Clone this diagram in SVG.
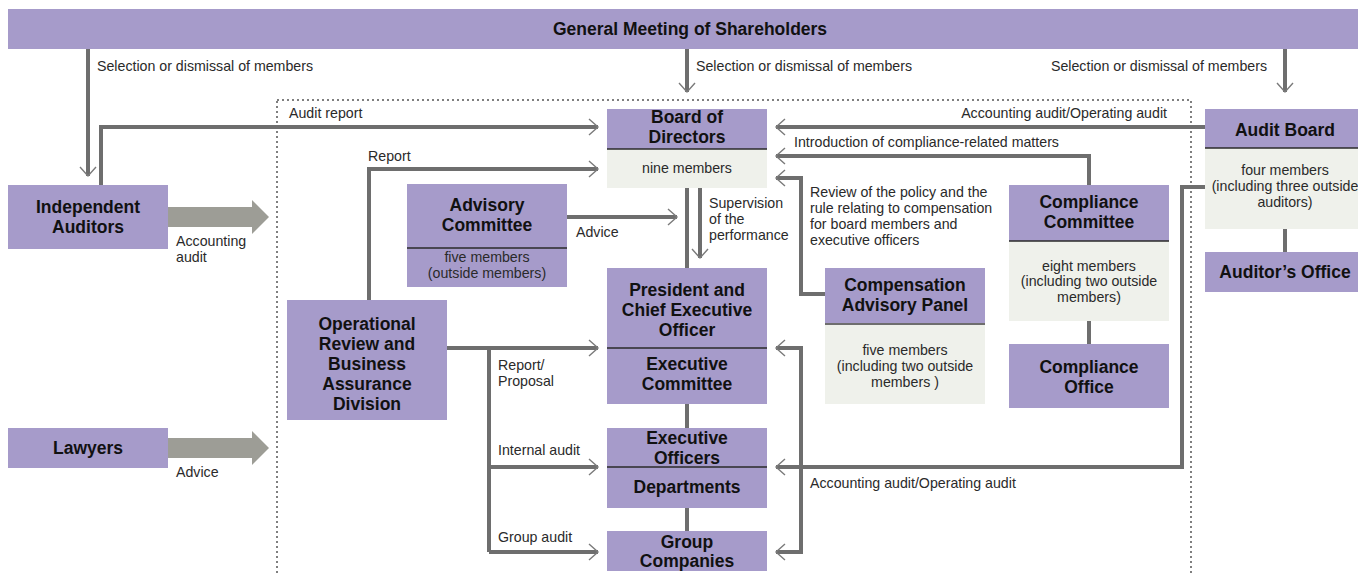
<svg xmlns="http://www.w3.org/2000/svg" width="1358" height="574" viewBox="0 0 1358 574">
<defs>
<style>
.p{fill:#a69bca}
.l{fill:#eff1eb}
.sep{stroke:#2a2a2a;stroke-width:1.5}
.c{fill:none;stroke:#6e6e6e;stroke-width:4}
.ca{fill:none;stroke:#6e6e6e;stroke-width:4;marker-end:url(#ah)}
.fat{fill:#9d9d96}
.b{font-family:"Liberation Sans",Arial,sans-serif;font-weight:bold;font-size:17.5px;fill:#111;text-anchor:middle}
.t{font-family:"Liberation Sans",Arial,sans-serif;font-size:14.2px;fill:#2a2a2a}
.tm{font-family:"Liberation Sans",Arial,sans-serif;font-size:14.2px;fill:#2a2a2a;text-anchor:middle}
.dot{fill:none;stroke:#555;stroke-width:1.5;stroke-dasharray:2 3}
</style>
<marker id="ah" markerUnits="userSpaceOnUse" markerWidth="24" markerHeight="24" refX="12" refY="12" orient="auto" viewBox="0 0 24 24">
<path d="M3,4 L12,12 L3,20" fill="none" stroke="#7a7a7a" stroke-width="1.4"/>
</marker>
</defs>

<rect class="dot" x="277" y="100" width="914" height="490"/>

<g id="connectors">
<path class="ca" d="M88,49 V176"/>
<path class="ca" d="M687,49 V92"/>
<path class="ca" d="M1285,49 V92"/>
<path class="ca" d="M101,185 V127 H598"/>
<path class="ca" d="M369,300 V169 H598"/>
<path class="ca" d="M567,217 H677"/>
<path class="c" d="M687,188 V268"/>
<path class="ca" d="M700,188 V258"/>
<path class="ca" d="M1205,127 H776"/>
<path class="ca" d="M1089,185 V156 H776"/>
<path class="ca" d="M825,294 H801 V178 H776"/>
<path class="ca" d="M1205,187 H1182 V467 H776"/>
<path class="ca" d="M801,467 V348 H776"/>
<path class="ca" d="M801,467 V552 H776"/>
<path class="ca" d="M447,348 H598"/>
<path class="c" d="M489,348 V552"/>
<path class="ca" d="M489,467 H598"/>
<path class="ca" d="M489,552 H598"/>
<path class="c" d="M687,404 V428"/>
<path class="c" d="M687,508 V531"/>
<path class="c" d="M1089,321 V344"/>
<path class="c" d="M1285,229 V252"/>
<rect class="fat" x="168" y="207" width="85" height="20"/>
<polygon class="fat" points="252,200 269,217 252,234"/>
<rect class="fat" x="168" y="438" width="85" height="20"/>
<polygon class="fat" points="252,431 269,448 252,465"/>
<text class="t" x="97" y="71">Selection or dismissal of members</text>
<text class="t" x="696" y="71">Selection or dismissal of members</text>
<text class="t" x="1267" y="71" text-anchor="end">Selection or dismissal of members</text>
<text class="t" x="289" y="118">Audit report</text>
<text class="t" x="368" y="161">Report</text>
<text class="t" x="176" y="246">Accounting</text>
<text class="t" x="176" y="262">audit</text>
<text class="t" x="176" y="477">Advice</text>
<text class="t" x="576" y="237">Advice</text>
<text class="t" x="709" y="208">Supervision</text>
<text class="t" x="709" y="224">of the</text>
<text class="t" x="709" y="240">performance</text>
<text class="t" x="1167" y="118" text-anchor="end">Accounting audit/Operating audit</text>
<text class="t" x="794" y="147">Introduction of compliance-related matters</text>
<text class="t" x="810" y="197">Review of the policy and the</text>
<text class="t" x="810" y="213">rule relating to compensation</text>
<text class="t" x="810" y="229">for board members and</text>
<text class="t" x="810" y="245">executive officers</text>
<text class="t" x="498" y="370">Report/</text>
<text class="t" x="498" y="386">Proposal</text>
<text class="t" x="498" y="455">Internal audit</text>
<text class="t" x="498" y="542">Group audit</text>
<text class="t" x="810" y="488">Accounting audit/Operating audit</text>
</g>

<g id="shareholders">
<rect class="p" x="8" y="9" width="1352" height="40"/>
<text class="b" x="690" y="35">General Meeting of Shareholders</text>
</g>

<g id="independent-auditors">
<rect class="p" x="8" y="185" width="160" height="64"/>
<text class="b" x="88" y="213">Independent</text>
<text class="b" x="88" y="233">Auditors</text>
</g>

<g id="lawyers">
<rect class="p" x="8" y="428" width="160" height="40"/>
<text class="b" x="88" y="454">Lawyers</text>
</g>

<g id="board">
<rect class="p" x="607" y="109" width="160" height="40"/>
<rect class="l" x="607" y="149" width="160" height="39"/>
<line class="sep" x1="607" y1="149" x2="767" y2="149"/>
<text class="b" x="687" y="123">Board of</text>
<text class="b" x="687" y="143">Directors</text>
<text class="tm" x="687" y="173">nine members</text>
</g>

<g id="advisory">
<rect class="p" x="407" y="184" width="160" height="103"/>
<line class="sep" x1="407" y1="248" x2="567" y2="248"/>
<text class="b" x="487" y="211">Advisory</text>
<text class="b" x="487" y="231">Committee</text>
<text class="tm" x="487" y="262">five members</text>
<text class="tm" x="487" y="278">(outside members)</text>
</g>

<g id="operational">
<rect class="p" x="287" y="300" width="160" height="120"/>
<text class="b" x="367" y="330">Operational</text>
<text class="b" x="367" y="350">Review and</text>
<text class="b" x="367" y="370">Business</text>
<text class="b" x="367" y="390">Assurance</text>
<text class="b" x="367" y="410">Division</text>
</g>

<g id="president">
<rect class="p" x="607" y="268" width="160" height="136"/>
<line class="sep" x1="607" y1="348" x2="767" y2="348"/>
<text class="b" x="687" y="296">President and</text>
<text class="b" x="687" y="316">Chief Executive</text>
<text class="b" x="687" y="336">Officer</text>
<text class="b" x="687" y="370">Executive</text>
<text class="b" x="687" y="390">Committee</text>
</g>

<g id="officers">
<rect class="p" x="607" y="428" width="160" height="80"/>
<line class="sep" x1="607" y1="467" x2="767" y2="467"/>
<text class="b" x="687" y="444">Executive</text>
<text class="b" x="687" y="464">Officers</text>
<text class="b" x="687" y="493">Departments</text>
</g>

<g id="group">
<rect class="p" x="607" y="531" width="160" height="40"/>
<text class="b" x="687" y="548">Group</text>
<text class="b" x="687" y="567">Companies</text>
</g>

<g id="compensation">
<rect class="p" x="825" y="268" width="160" height="56"/>
<rect class="l" x="825" y="324" width="160" height="80"/>
<line x1="825" y1="324" x2="985" y2="324" stroke="#6e6e6e" stroke-width="2"/>
<text class="b" x="905" y="291">Compensation</text>
<text class="b" x="905" y="311">Advisory Panel</text>
<text class="tm" x="905" y="355">five members</text>
<text class="tm" x="905" y="371">(including two outside</text>
<text class="tm" x="905" y="387">members )</text>
</g>

<g id="compliance-committee">
<rect class="p" x="1009" y="185" width="160" height="56"/>
<rect class="l" x="1009" y="241" width="160" height="80"/>
<line class="sep" x1="1009" y1="241" x2="1169" y2="241"/>
<text class="b" x="1089" y="208">Compliance</text>
<text class="b" x="1089" y="228">Committee</text>
<text class="tm" x="1089" y="271">eight members</text>
<text class="tm" x="1089" y="286">(including two outside</text>
<text class="tm" x="1089" y="302">members)</text>
</g>

<g id="compliance-office">
<rect class="p" x="1009" y="344" width="160" height="64"/>
<text class="b" x="1089" y="373">Compliance</text>
<text class="b" x="1089" y="393">Office</text>
</g>

<g id="audit-board">
<rect class="p" x="1205" y="109" width="160" height="39"/>
<rect class="l" x="1205" y="148" width="160" height="81"/>
<line class="sep" x1="1205" y1="148" x2="1365" y2="148"/>
<text class="b" x="1285" y="136">Audit Board</text>
<text class="tm" x="1285" y="175">four members</text>
<text class="tm" x="1285" y="191">(including three outside</text>
<text class="tm" x="1285" y="207">auditors)</text>
</g>

<g id="auditors-office">
<rect class="p" x="1205" y="252" width="160" height="40"/>
<text class="b" x="1285" y="278">Auditor’s Office</text>
</g>
</svg>
